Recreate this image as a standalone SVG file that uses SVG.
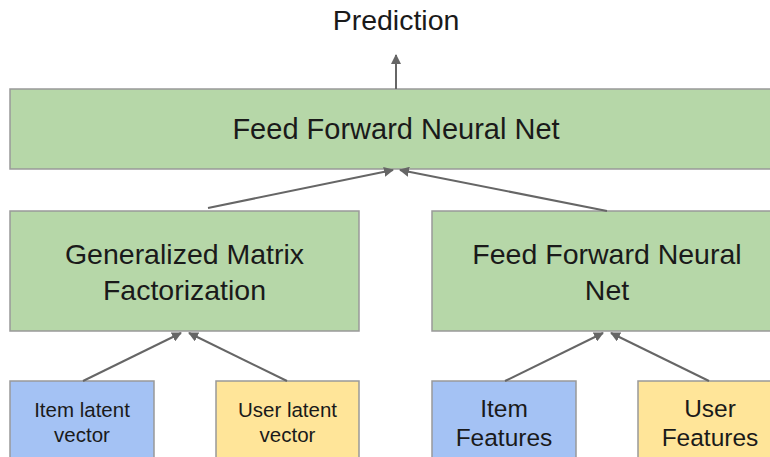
<svg xmlns="http://www.w3.org/2000/svg" width="770" height="457" viewBox="0 0 770 457">
  <style>
    .box { stroke: #999999; stroke-width: 1.5; }
    .green { fill: #b6d7a8; }
    .blue { fill: #a4c2f4; }
    .yellow { fill: #ffe599; }
    text { font-family: "Liberation Sans", Arial, sans-serif; fill: #1a1a1a; text-anchor: middle; }
    .edge { stroke: #666666; stroke-width: 2; fill: none; marker-end: url(#arrow); }
  </style>
  <defs>
    <marker id="arrow" viewBox="0 0 10 10" refX="9" refY="5" markerWidth="5" markerHeight="5" orient="auto" markerUnits="strokeWidth">
      <path d="M0,0 L10,5 L0,10 z" fill="#666666"/>
    </marker>
  </defs>

  <rect width="770" height="457" fill="#ffffff"/>

  <text x="396" y="30" font-size="28.5">Prediction</text>

  <g id="ffnn-top">
    <rect class="box green" x="10" y="89" width="772" height="80"/>
    <text x="396" y="139" font-size="29">Feed Forward Neural Net</text>
  </g>

  <g id="gmf">
    <rect class="box green" x="10" y="211" width="349" height="120"/>
    <text x="184.5" y="264" font-size="28.5">Generalized Matrix</text>
    <text x="184.5" y="300" font-size="28.5">Factorization</text>
  </g>

  <g id="ffnn-side">
    <rect class="box green" x="432" y="211" width="350" height="120"/>
    <text x="607" y="264" font-size="28.5">Feed Forward Neural</text>
    <text x="607" y="300" font-size="28.5">Net</text>
  </g>

  <g id="item-latent">
    <rect class="box blue" x="10" y="381" width="144" height="90"/>
    <text x="82" y="417" font-size="20.5">Item latent</text>
    <text x="82" y="442" font-size="20.5">vector</text>
  </g>

  <g id="user-latent">
    <rect class="box yellow" x="216" y="381" width="143" height="90"/>
    <text x="287.5" y="417" font-size="20.5">User latent</text>
    <text x="287.5" y="442" font-size="20.5">vector</text>
  </g>

  <g id="item-features">
    <rect class="box blue" x="432" y="381" width="144" height="90"/>
    <text x="504" y="417" font-size="24.5">Item</text>
    <text x="504" y="446" font-size="24.5">Features</text>
  </g>

  <g id="user-features">
    <rect class="box yellow" x="638" y="381" width="144" height="90"/>
    <text x="710" y="417" font-size="24.5">User</text>
    <text x="710" y="446" font-size="24.5">Features</text>
  </g>

  <g id="connectors">
    <line class="edge" x1="396" y1="89" x2="396" y2="55"/>
    <line class="edge" x1="208" y1="208" x2="393" y2="170"/>
    <line class="edge" x1="607" y1="211" x2="400" y2="170"/>
    <line class="edge" x1="83" y1="381" x2="181" y2="333"/>
    <line class="edge" x1="287" y1="381" x2="189" y2="333"/>
    <line class="edge" x1="505" y1="381" x2="603" y2="333"/>
    <line class="edge" x1="709" y1="381" x2="611" y2="333"/>
  </g>
</svg>
